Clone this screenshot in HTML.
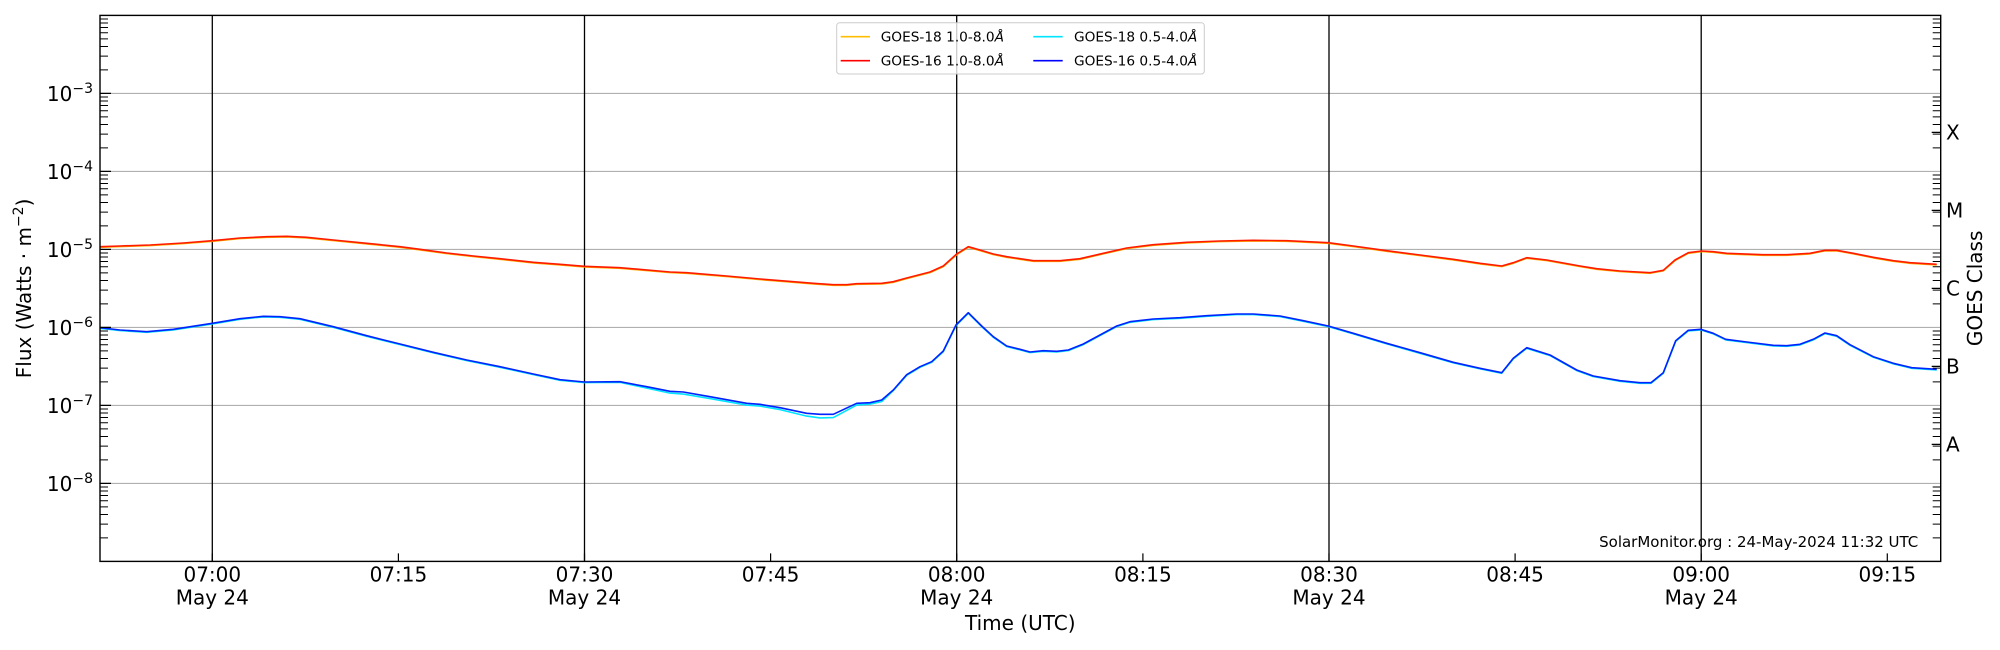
<!DOCTYPE html>
<html>
<head>
<meta charset="utf-8">
<style>
html,body{margin:0;padding:0;background:#fff;}
svg{display:block;}
text{font-family:"DejaVu Sans","Liberation Sans",sans-serif;fill:#000;}
</style>
</head>
<body>
<svg width="2000" height="650" viewBox="0 0 2000 650" xmlns="http://www.w3.org/2000/svg">
<rect x="0" y="0" width="2000" height="650" fill="#fff"/>

<!-- horizontal grid -->
<g stroke="#b0b0b0" stroke-width="1.1">
<line x1="100" y1="93.4" x2="1940.7" y2="93.4"/>
<line x1="100" y1="171.4" x2="1940.7" y2="171.4"/>
<line x1="100" y1="249.4" x2="1940.7" y2="249.4"/>
<line x1="100" y1="327.4" x2="1940.7" y2="327.4"/>
<line x1="100" y1="405.4" x2="1940.7" y2="405.4"/>
<line x1="100" y1="483.4" x2="1940.7" y2="483.4"/>
</g>

<!-- vertical black lines -->
<g stroke="#000" stroke-width="1.3">
<line x1="212.3" y1="15.4" x2="212.3" y2="561.4"/>
<line x1="584.5" y1="15.4" x2="584.5" y2="561.4"/>
<line x1="956.7" y1="15.4" x2="956.7" y2="561.4"/>
<line x1="1329" y1="15.4" x2="1329" y2="561.4"/>
<line x1="1701.2" y1="15.4" x2="1701.2" y2="561.4"/>
</g>

<!-- GOES-18 long (orange) -->
<polyline fill="none" stroke="#ffb000" stroke-width="1.6" stroke-linejoin="round" transform="translate(0,0.6)" points="100,246.7 120,246 150,245 183.3,243 212.3,240.7 240,238 266.7,236.7 286.7,236.3 306.7,237.3 333.3,240 366.7,243.3 400,246.7 420,249.3 446.7,253 473.3,256 500,258.7 533.3,262.3 560,264.3 584.3,266.3 620,267.7 670,272 686.7,272.7 726.7,276 760,279 793.3,281.7 813.3,283.3 833.3,284.7 846.7,284.7 856.7,283.7 881.7,283.3 893.3,281.7 906.7,278 930,272 943.3,266 956.7,254 968.3,246.7 980,250 993.3,254 1006.7,256.7 1020,258.7 1033.3,260.7 1060,260.7 1080,258.7 1103.3,253.3 1126.7,248 1153.3,244.7 1186.7,242.3 1220,241 1253.3,240.3 1286.7,240.7 1328.3,242.7 1353.3,246 1386.7,250.7 1420,255 1453.3,259.3 1480,263.3 1501.7,266 1513.3,262.7 1526.7,257.7 1546.7,260 1580,266 1596.7,268.7 1620,271 1650,272.7 1663.3,270.3 1675,260 1688.3,252.7 1701.7,251 1713.3,251.7 1726.7,253.3 1763.3,254.7 1786.7,254.7 1810,253.3 1825,250.3 1836.7,250.3 1853.3,253.3 1873.3,257.3 1893.3,260.7 1910,262.7 1936.7,264.3"/>
<!-- GOES-16 long (red) -->
<polyline fill="none" stroke="#ff1a00" stroke-width="1.6" stroke-linejoin="round" points="100,246.7 120,246 150,245 183.3,243 212.3,240.7 240,238 266.7,236.7 286.7,236.3 306.7,237.3 333.3,240 366.7,243.3 400,246.7 420,249.3 446.7,253 473.3,256 500,258.7 533.3,262.3 560,264.3 584.3,266.3 620,267.7 670,272 686.7,272.7 726.7,276 760,279 793.3,281.7 813.3,283.3 833.3,284.7 846.7,284.7 856.7,283.7 881.7,283.3 893.3,281.7 906.7,278 930,272 943.3,266 956.7,254 968.3,246.7 980,250 993.3,254 1006.7,256.7 1020,258.7 1033.3,260.7 1060,260.7 1080,258.7 1103.3,253.3 1126.7,248 1153.3,244.7 1186.7,242.3 1220,241 1253.3,240.3 1286.7,240.7 1328.3,242.7 1353.3,246 1386.7,250.7 1420,255 1453.3,259.3 1480,263.3 1501.7,266 1513.3,262.7 1526.7,257.7 1546.7,260 1580,266 1596.7,268.7 1620,271 1650,272.7 1663.3,270.3 1675,260 1688.3,252.7 1701.7,251 1713.3,251.7 1726.7,253.3 1763.3,254.7 1786.7,254.7 1810,253.3 1825,250.3 1836.7,250.3 1853.3,253.3 1873.3,257.3 1893.3,260.7 1910,262.7 1936.7,264.3"/>

<!-- GOES-18 short (cyan) -->
<polyline fill="none" stroke="#00e5ff" stroke-width="1.6" stroke-linejoin="round" transform="translate(0,0.6)" points="100,327.7 120,330 146.7,331.7 173.3,329.3 212.3,323.3 240,318.7 263.3,316.3 280,316.7 300,318.7 333.3,326.7 366.7,335.7 400,344 433.3,352.3 466.7,360 500,366.7 533.3,374 560,379.7 584.3,382 620,381.7 646.7,387.5 670,392.5 683.3,393.5 710,398 746.7,404.5 760,405.5 780,409 806.7,415.5 820,417.3 833.3,417 856.7,404.5 870,403.5 881.7,401 893.3,390 906.7,374.7 920,366.7 931.7,361.7 943.3,351 956,325 968.3,312.7 981.7,326 993.3,336.7 1006.7,346 1020,349.3 1030,352 1043.3,350.7 1056.7,351.3 1068.3,350 1083.3,344 1100,335 1116.7,326 1130,321.7 1153.3,319 1180,317.7 1206.7,315.7 1236.7,314 1253.3,314 1280,316 1303.3,320.7 1328.3,326 1353.3,333.3 1386.7,343.3 1420,352.7 1453.3,362.3 1480,368.3 1501.7,372.7 1513.3,358.3 1526.7,347.7 1550,355 1576.7,370 1593.3,376 1620,380.7 1640,382.7 1651,382.7 1663.3,372.7 1675.7,340.7 1688.3,330.3 1700.7,329.3 1713.3,333.3 1725.7,339.3 1746.7,342 1773.3,345.3 1786.7,345.7 1800,344.3 1813.3,339.3 1825,333 1836.7,335.7 1850,344.7 1873.3,356.7 1893.3,363.3 1911.7,367.7 1936.7,369.3"/>
<!-- GOES-16 short (blue) -->
<polyline fill="none" stroke="#0022ff" stroke-width="1.6" stroke-linejoin="round" points="100,327.7 120,330 146.7,331.7 173.3,329.3 212.3,323.3 240,318.7 263.3,316.3 280,316.7 300,318.7 333.3,326.7 366.7,335.7 400,344 433.3,352.3 466.7,360 500,366.7 533.3,374 560,379.7 584.3,382 620,381.7 646.7,386.7 670,391.3 683.3,392 710,396.7 746.7,403.3 760,404.3 780,407.7 806.7,413.3 820,414.3 833.3,414.3 856.7,403.3 870,402.7 881.7,400 893.3,390 906.7,374.7 920,366.7 931.7,361.7 943.3,351 956,325 968.3,312.7 981.7,326 993.3,336.7 1006.7,346 1020,349.3 1030,352 1043.3,350.7 1056.7,351.3 1068.3,350 1083.3,344 1100,335 1116.7,326 1130,321.7 1153.3,319 1180,317.7 1206.7,315.7 1236.7,314 1253.3,314 1280,316 1303.3,320.7 1328.3,326 1353.3,333.3 1386.7,343.3 1420,352.7 1453.3,362.3 1480,368.3 1501.7,372.7 1513.3,358.3 1526.7,347.7 1550,355 1576.7,370 1593.3,376 1620,380.7 1640,382.7 1651,382.7 1663.3,372.7 1675.7,340.7 1688.3,330.3 1700.7,329.3 1713.3,333.3 1725.7,339.3 1746.7,342 1773.3,345.3 1786.7,345.7 1800,344.3 1813.3,339.3 1825,333 1836.7,335.7 1850,344.7 1873.3,356.7 1893.3,363.3 1911.7,367.7 1936.7,369.3"/>

<!-- axes frame -->
<rect x="100" y="15.4" width="1840.7" height="546" fill="none" stroke="#000" stroke-width="1.4"/>

<!-- left major ticks -->
<path stroke="#000" stroke-width="1.2" fill="none" d="M100 93.4h11M100 171.4h11M100 249.4h11M100 327.4h11M100 405.4h11M100 483.4h11"/>
<!-- left + right minor ticks -->
<g stroke="#000" stroke-width="1">
<path id="mt" fill="none" d="M100 537.92h8M100 524.18h8M100 514.44h8M100 506.88h8M100 500.71h8M100 495.48h8M100 490.96h8M100 486.97h8
M100 459.92h8M100 446.18h8M100 436.44h8M100 428.88h8M100 422.71h8M100 417.48h8M100 412.96h8M100 408.97h8
M100 381.92h8M100 368.18h8M100 358.44h8M100 350.88h8M100 344.71h8M100 339.48h8M100 334.96h8M100 330.97h8
M100 303.92h8M100 290.18h8M100 280.44h8M100 272.88h8M100 266.71h8M100 261.48h8M100 256.96h8M100 252.97h8
M100 225.92h8M100 212.18h8M100 202.44h8M100 194.88h8M100 188.71h8M100 183.48h8M100 178.96h8M100 174.97h8
M100 147.92h8M100 134.18h8M100 124.44h8M100 116.88h8M100 110.71h8M100 105.48h8M100 100.96h8M100 96.97h8
M100 69.92h8M100 56.18h8M100 46.44h8M100 38.88h8M100 32.71h8M100 27.48h8M100 22.96h8M100 18.97h8"/>
<path fill="none" d="M1940.7 537.92h-8M1940.7 524.18h-8M1940.7 514.44h-8M1940.7 506.88h-8M1940.7 500.71h-8M1940.7 495.48h-8M1940.7 490.96h-8M1940.7 486.97h-8
M1940.7 459.92h-8M1940.7 446.18h-8M1940.7 436.44h-8M1940.7 428.88h-8M1940.7 422.71h-8M1940.7 417.48h-8M1940.7 412.96h-8M1940.7 408.97h-8
M1940.7 381.92h-8M1940.7 368.18h-8M1940.7 358.44h-8M1940.7 350.88h-8M1940.7 344.71h-8M1940.7 339.48h-8M1940.7 334.96h-8M1940.7 330.97h-8
M1940.7 303.92h-8M1940.7 290.18h-8M1940.7 280.44h-8M1940.7 272.88h-8M1940.7 266.71h-8M1940.7 261.48h-8M1940.7 256.96h-8M1940.7 252.97h-8
M1940.7 225.92h-8M1940.7 212.18h-8M1940.7 202.44h-8M1940.7 194.88h-8M1940.7 188.71h-8M1940.7 183.48h-8M1940.7 178.96h-8M1940.7 174.97h-8
M1940.7 147.92h-8M1940.7 134.18h-8M1940.7 124.44h-8M1940.7 116.88h-8M1940.7 110.71h-8M1940.7 105.48h-8M1940.7 100.96h-8M1940.7 96.97h-8
M1940.7 69.92h-8M1940.7 56.18h-8M1940.7 46.44h-8M1940.7 38.88h-8M1940.7 32.71h-8M1940.7 27.48h-8M1940.7 22.96h-8M1940.7 18.97h-8"/>
<!-- right class ticks -->
<path fill="none" stroke-width="1.2" d="M1940.7 132.4h-9M1940.7 210.4h-9M1940.7 288.4h-9M1940.7 366.4h-9M1940.7 444.4h-9"/>
<!-- bottom x ticks -->
<path fill="none" stroke-width="1.2" d="M212.3 561.4v-8M398.4 561.4v-8M584.5 561.4v-8M770.6 561.4v-8M956.7 561.4v-8M1142.9 561.4v-8M1329 561.4v-8M1515.1 561.4v-8M1701.2 561.4v-8M1887.3 561.4v-8"/>
</g>

<!-- y tick labels -->
<g font-size="20" text-anchor="end">
<text x="93" y="100.9">10<tspan font-size="14" dy="-8">−3</tspan></text>
<text x="93" y="178.9">10<tspan font-size="14" dy="-8">−4</tspan></text>
<text x="93" y="256.9">10<tspan font-size="14" dy="-8">−5</tspan></text>
<text x="93" y="334.9">10<tspan font-size="14" dy="-8">−6</tspan></text>
<text x="93" y="412.9">10<tspan font-size="14" dy="-8">−7</tspan></text>
<text x="93" y="490.9">10<tspan font-size="14" dy="-8">−8</tspan></text>
</g>

<!-- right class labels -->
<g font-size="20">
<text x="1946" y="139.7">X</text>
<text x="1946" y="217.7">M</text>
<text x="1946" y="295.7">C</text>
<text x="1946" y="373.7">B</text>
<text x="1946" y="451.7">A</text>
</g>
<text font-size="20" text-anchor="middle" transform="translate(1982,288.4) rotate(-90)">GOES Class</text>

<!-- y axis label -->
<text font-size="20" text-anchor="middle" transform="translate(31,288.4) rotate(-90)">Flux (Watts · m<tspan font-size="14" dy="-8">−2</tspan><tspan dy="8">)</tspan></text>

<!-- x tick labels -->
<g font-size="20" text-anchor="middle">
<text x="212.3" y="581.5">07:00</text><text x="212.3" y="604.5">May 24</text>
<text x="398.4" y="581.5">07:15</text>
<text x="584.5" y="581.5">07:30</text><text x="584.5" y="604.5">May 24</text>
<text x="770.6" y="581.5">07:45</text>
<text x="956.7" y="581.5">08:00</text><text x="956.7" y="604.5">May 24</text>
<text x="1142.9" y="581.5">08:15</text>
<text x="1329" y="581.5">08:30</text><text x="1329" y="604.5">May 24</text>
<text x="1515.1" y="581.5">08:45</text>
<text x="1701.2" y="581.5">09:00</text><text x="1701.2" y="604.5">May 24</text>
<text x="1887.3" y="581.5">09:15</text>
</g>
<text x="1020.3" y="630" font-size="20" text-anchor="middle">Time (UTC)</text>

<!-- footer -->
<text x="1918.3" y="547" font-size="15" text-anchor="end">SolarMonitor.org : 24-May-2024 11:32 UTC</text>

<!-- legend -->
<rect x="836.7" y="22.7" width="367.6" height="51.3" rx="3" ry="3" fill="#fff" fill-opacity="0.8" stroke="#cccccc" stroke-width="1"/>
<line x1="840.7" y1="36.7" x2="870" y2="36.7" stroke="#ffbf00" stroke-width="1.6"/>
<line x1="840.7" y1="60.7" x2="870" y2="60.7" stroke="#ff0000" stroke-width="1.6"/>
<line x1="1033.3" y1="36.7" x2="1062.7" y2="36.7" stroke="#00e5ff" stroke-width="1.6"/>
<line x1="1033.3" y1="60.7" x2="1062.7" y2="60.7" stroke="#0000ff" stroke-width="1.6"/>
<g font-size="13.7">
<text x="880.7" y="41.6">GOES-18 1.0-8.0<tspan font-style="italic">Å</tspan></text>
<text x="880.7" y="65.6">GOES-16 1.0-8.0<tspan font-style="italic">Å</tspan></text>
<text x="1074" y="41.6">GOES-18 0.5-4.0<tspan font-style="italic">Å</tspan></text>
<text x="1074" y="65.6">GOES-16 0.5-4.0<tspan font-style="italic">Å</tspan></text>
</g>
</svg>
</body>
</html>
